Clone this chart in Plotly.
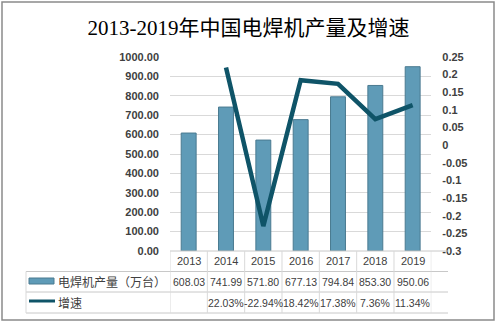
import plotly.graph_objects as go
from plotly.subplots import make_subplots

years = ["2013", "2014", "2015", "2016", "2017", "2018", "2019"]
output = [608.03, 741.99, 571.80, 677.13, 794.84, 853.30, 950.06]
growth = [None, 0.2203, -0.2294, 0.1842, 0.1738, 0.0736, 0.1134]
output_text = ["608.03", "741.99", "571.80", "677.13", "794.84", "853.30", "950.06"]
growth_text = ["", "22.03%", "-22.94%", "18.42%", "17.38%", "7.36%", "11.34%"]
right_ticks = [0.25, 0.2, 0.15, 0.1, 0.05, 0, -0.05, -0.1, -0.15, -0.2, -0.25, -0.3]
right_tick_text = ["0.25", "0.2", "0.15", "0.1", "0.05", "0", "-0.05", "-0.1", "-0.15", "-0.2", "-0.25", "-0.3"]
series_names = ["电焊机产量（万台）", "增速"]
title = "2013-2019年中国电焊机产量及增速"

W, H = 497, 323
L, R, T, B = 170, 448, 57, 251

def px_x(px):
    return (px - L) / (R - L)

def px_y(py):
    return (B - py) / (B - T)

BAR_COLOR = "#5f9bb7"
LINE_COLOR = "#0f5468"
GRID = "#d9d9d9"
TXT = "#404040"
FONT = "Liberation Sans, Noto Sans CJK SC"

fig = make_subplots(specs=[[{"secondary_y": True}]])
fig.add_trace(go.Bar(x=years, y=output, width=0.4, name=series_names[0],
                     marker=dict(color=BAR_COLOR, line=dict(color="#4a7a90", width=1))),
              secondary_y=False)
fig.add_trace(go.Scatter(x=years, y=growth, mode="lines", name=series_names[1],
                         line=dict(color=LINE_COLOR, width=4.5)),
              secondary_y=True)

fig.update_layout(
    width=W, height=H,
    margin=dict(l=L, r=W - R, t=T, b=H - B),
    paper_bgcolor="white", plot_bgcolor="white",
    showlegend=False,
    title=dict(text=title, x=0.5, xanchor="center", y=1 - 28 / H, yanchor="middle",
               yref="container",
               font=dict(family="Liberation Serif, Noto Sans CJK SC", size=21, color="#000000")),
    font=dict(family=FONT, color=TXT),
)
fig.update_xaxes(type="category", range=[-0.5, 6.5], showticklabels=False,
                 showgrid=False, showline=False, ticks="")
fig.update_yaxes(range=[0, 1000], dtick=100, tickformat=".2f", showgrid=True,
                 gridcolor=GRID, gridwidth=1, zeroline=False, showline=False, ticks="",
                 ticklabelstandoff=10,
                 tickfont=dict(family=FONT, size=11, color=TXT, weight="bold"),
                 secondary_y=False)
fig.update_yaxes(range=[-0.3, 0.25], tickvals=right_ticks, ticktext=right_tick_text,
                 showgrid=False, zeroline=False, showline=False, ticks="",
                 ticklabelstandoff=10,
                 tickfont=dict(family=FONT, size=11, color=TXT, weight="bold"),
                 secondary_y=True)

shapes = []
# outer border
shapes.append(dict(type="rect", xref="paper", yref="paper",
                   x0=px_x(2), x1=px_x(494), y0=px_y(2), y1=px_y(320),
                   line=dict(color="#8a8a8a", width=1.5), layer="below"))
# table rows
rows_y = [251, 271.5, 292, 313]
for i, ry in enumerate(rows_y):
    x0 = L if i == 0 else 26
    shapes.append(dict(type="line", xref="paper", yref="paper",
                       x0=px_x(x0), x1=px_x(R), y0=px_y(ry), y1=px_y(ry),
                       line=dict(color="#c8c8c8", width=1)))
# vertical lines
for k in range(len(years) + 1):
    shapes.append(dict(type="line", xref="x", yref="paper",
                       x0=k - 0.5, x1=k - 0.5, y0=px_y(251), y1=px_y(313),
                       line=dict(color=GRID, width=1)))
shapes.append(dict(type="line", xref="paper", yref="paper",
                   x0=px_x(26), x1=px_x(26), y0=px_y(271.5), y1=px_y(313),
                   line=dict(color=GRID, width=1)))
# legend swatches
shapes.append(dict(type="rect", xref="paper", yref="paper",
                   x0=px_x(29), x1=px_x(54), y0=px_y(278), y1=px_y(284),
                   fillcolor=BAR_COLOR, line=dict(color="#4a7a90", width=1)))
shapes.append(dict(type="line", xref="paper", yref="paper",
                   x0=px_x(29), x1=px_x(55), y0=px_y(301), y1=px_y(301),
                   line=dict(color=LINE_COLOR, width=3)))
fig.update_layout(shapes=shapes)

ann = []
for i, yr in enumerate(years):
    ann.append(dict(x=i, xref="x", y=px_y(261), yref="paper", text=yr, showarrow=False,
                    xanchor="center", yanchor="middle",
                    font=dict(family=FONT, size=11, color=TXT)))
    ann.append(dict(x=i, xref="x", y=px_y(281.5), yref="paper", text=output_text[i],
                    showarrow=False, xanchor="center", yanchor="middle",
                    font=dict(family=FONT, size=10.5, color=TXT)))
    if growth_text[i]:
        ann.append(dict(x=i, xref="x", y=px_y(302.5), yref="paper", text=growth_text[i],
                        showarrow=False, xanchor="center", yanchor="middle",
                        font=dict(family=FONT, size=10.5, color=TXT)))
ann.append(dict(x=px_x(56), xref="paper", y=px_y(281.5), yref="paper", text=series_names[0],
                showarrow=False, xanchor="left", yanchor="middle",
                font=dict(family="Noto Sans CJK SC", size=12, color=TXT)))
ann.append(dict(x=px_x(56), xref="paper", y=px_y(302.5), yref="paper", text=series_names[1],
                showarrow=False, xanchor="left", yanchor="middle",
                font=dict(family="Noto Sans CJK SC", size=12, color=TXT)))
fig.update_layout(annotations=ann)

fig.write_html("out.html")
